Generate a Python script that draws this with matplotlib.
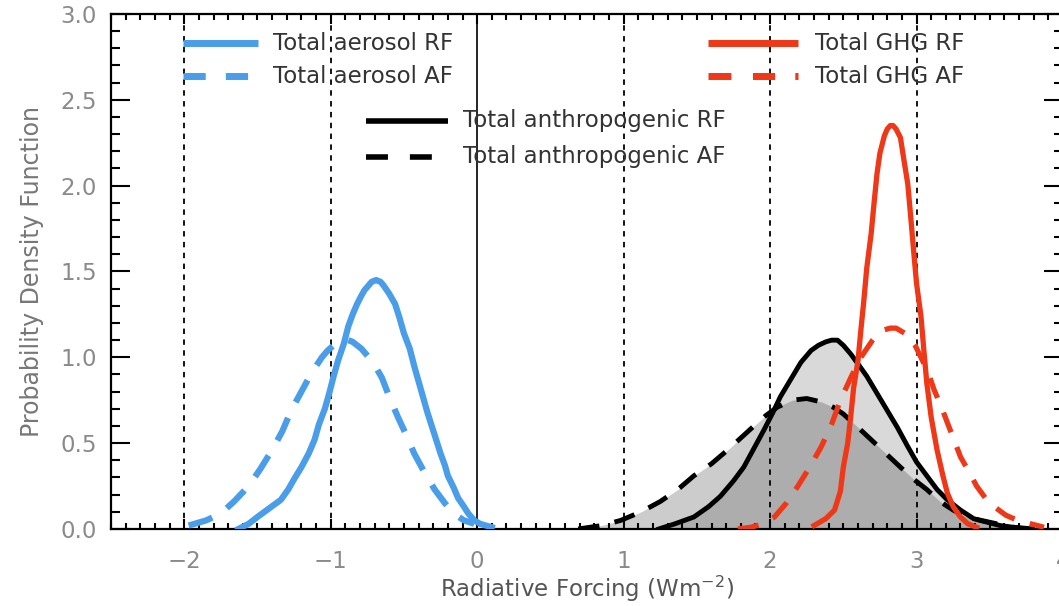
import matplotlib
matplotlib.use("Agg")
import matplotlib.pyplot as plt
from matplotlib.ticker import MultipleLocator

# PDFs of radiative forcing (RF) and adjusted forcing (AF), W m-2
aer_rf_x = [-1.63, -1.56, -1.50, -1.42, -1.34, -1.29, -1.25, -1.20, -1.15, -1.11, -1.08,
            -1.04, -1.01, -0.98, -0.95, -0.91, -0.88, -0.85, -0.82, -0.79, -0.77, -0.74,
            -0.72, -0.69, -0.66, -0.64, -0.60, -0.56, -0.53, -0.50, -0.46, -0.43, -0.40,
            -0.37, -0.34, -0.31, -0.28, -0.25, -0.22, -0.20, -0.16, -0.13, -0.09, -0.06,
            -0.02, 0.02, 0.06, 0.10]
aer_rf_y = [0.00, 0.03, 0.07, 0.12, 0.17, 0.23, 0.29, 0.36, 0.44, 0.52, 0.61,
            0.70, 0.79, 0.89, 0.98, 1.08, 1.18, 1.25, 1.31, 1.36, 1.39, 1.42,
            1.44, 1.45, 1.44, 1.42, 1.37, 1.31, 1.23, 1.14, 1.05, 0.95, 0.86,
            0.77, 0.68, 0.60, 0.52, 0.44, 0.37, 0.31, 0.24, 0.18, 0.13, 0.09,
            0.05, 0.03, 0.02, 0.01]

aer_af_x = [-1.97, -1.85, -1.75, -1.66, -1.56, -1.48, -1.40, -1.33, -1.27, -1.20, -1.13,
            -1.06, -1.02, -0.98, -0.95, -0.91, -0.88, -0.85, -0.82, -0.79, -0.75, -0.72,
            -0.69, -0.65, -0.60, -0.54, -0.48, -0.43, -0.36, -0.29, -0.22, -0.16, -0.09,
            -0.02]
aer_af_y = [0.02, 0.05, 0.09, 0.16, 0.25, 0.35, 0.46, 0.57, 0.69, 0.80, 0.91,
            1.00, 1.04, 1.07, 1.09, 1.10, 1.10, 1.09, 1.07, 1.05, 1.01, 0.98,
            0.94, 0.88, 0.77, 0.65, 0.54, 0.44, 0.33, 0.23, 0.15, 0.09, 0.05,
            0.03]

ant_rf_x = [1.24, 1.35, 1.48, 1.58, 1.66, 1.75, 1.82, 1.89, 1.96, 2.02, 2.07, 2.14,
            2.21, 2.28, 2.33, 2.38, 2.42, 2.46, 2.50, 2.55, 2.61, 2.66, 2.73, 2.80,
            2.87, 2.94, 3.00, 3.07, 3.14, 3.21, 3.30, 3.39, 3.48, 3.57, 3.75]
ant_rf_y = [0.00, 0.03, 0.07, 0.13, 0.19, 0.28, 0.36, 0.47, 0.58, 0.68, 0.77, 0.87,
            0.97, 1.04, 1.07, 1.09, 1.10, 1.10, 1.07, 1.02, 0.95, 0.89, 0.79, 0.69,
            0.59, 0.48, 0.39, 0.31, 0.23, 0.17, 0.11, 0.06, 0.04, 0.02, 0.00]

ant_af_x = [0.69, 0.85, 0.98, 1.12, 1.25, 1.37, 1.48, 1.60, 1.71, 1.80, 1.89, 1.97,
            2.05, 2.15, 2.25, 2.35, 2.43, 2.50, 2.59, 2.69, 2.79, 2.89, 2.98, 3.07,
            3.16, 3.25, 3.34, 3.44, 3.55, 3.66, 3.80]
ant_af_y = [0.00, 0.02, 0.05, 0.10, 0.16, 0.23, 0.31, 0.38, 0.46, 0.53, 0.60, 0.66,
            0.71, 0.75, 0.76, 0.74, 0.71, 0.67, 0.60, 0.52, 0.44, 0.36, 0.29, 0.23,
            0.16, 0.11, 0.07, 0.05, 0.03, 0.01, 0.00]

ghg_rf_x = [2.30, 2.38, 2.44, 2.48, 2.50, 2.53, 2.55, 2.57, 2.60, 2.62, 2.64, 2.66,
            2.69, 2.71, 2.73, 2.75, 2.78, 2.80, 2.82, 2.84, 2.86, 2.89, 2.91, 2.94,
            2.96, 2.98, 3.00, 3.03, 3.05, 3.07, 3.10, 3.14, 3.18, 3.21, 3.25, 3.30,
            3.35, 3.41]
ghg_rf_y = [0.02, 0.06, 0.11, 0.22, 0.36, 0.50, 0.65, 0.82, 0.98, 1.16, 1.33, 1.52,
            1.72, 1.90, 2.07, 2.19, 2.29, 2.33, 2.35, 2.35, 2.33, 2.28, 2.17, 2.01,
            1.82, 1.62, 1.43, 1.24, 1.04, 0.85, 0.65, 0.46, 0.31, 0.21, 0.13, 0.07,
            0.03, 0.01]

ghg_af_x = [1.78, 1.87, 1.95, 2.03, 2.11, 2.19, 2.27, 2.35, 2.42, 2.48, 2.55, 2.62,
            2.70, 2.74, 2.78, 2.82, 2.86, 2.90, 2.94, 2.99, 3.03, 3.08, 3.12, 3.17,
            3.21, 3.26, 3.30, 3.36, 3.41, 3.47, 3.53, 3.61, 3.69, 3.78, 3.87]
ghg_af_y = [0.00, 0.01, 0.03, 0.07, 0.15, 0.25, 0.36, 0.48, 0.61, 0.75, 0.88, 1.00,
            1.10, 1.14, 1.16, 1.17, 1.17, 1.15, 1.13, 1.07, 1.00, 0.91, 0.81, 0.71,
            0.62, 0.51, 0.42, 0.33, 0.25, 0.18, 0.13, 0.08, 0.05, 0.03, 0.01]

dotted_at = [-2, -1, 1, 2, 3]

blue = "#4a9de8"
red = "#ee3818"
grey_txt = "#8a8a8a"

fig = plt.figure(figsize=(10.59, 6.06), dpi=100)
ax = fig.add_axes([0.1048, 0.1271, 0.899, 0.8498])

# shaded areas under the anthropogenic curves (overlap comes out darker)
ax.fill_between(ant_rf_x, 0, ant_rf_y, color="k", alpha=0.15, lw=0, zorder=1)
ax.fill_between(ant_af_x, 0, ant_af_y, color="k", alpha=0.20, lw=0, zorder=1)

for xv in dotted_at:
    ax.axvline(xv, color="k", lw=1.3, ls=(0, (3, 3)), zorder=2)
ax.axvline(0, color="k", lw=1.2, zorder=2)

ax.plot(aer_rf_x, aer_rf_y, color=blue, lw=4.5, zorder=3)
ax.plot(aer_af_x, aer_af_y, color=blue, lw=4.5, ls=(0, (4, 2.8)), zorder=3)
ax.plot(ant_rf_x, ant_rf_y, color="k", lw=3.5, zorder=4)
ax.plot(ant_af_x, ant_af_y, color="k", lw=3.5, ls=(0, (4.4, 3.2)), zorder=4)
ax.plot(ghg_rf_x, ghg_rf_y, color=red, lw=3.8, zorder=5)
ax.plot(ghg_af_x, ghg_af_y, color=red, lw=3.8, ls=(0, (4, 3)), zorder=5)

# legend drawn by hand, three blocks
def key(x0, x1, y, color, lw, ls, label, tx):
    ax.plot([x0, x1], [y, y], color=color, lw=lw, ls=ls, transform=ax.transAxes,
            clip_on=False, zorder=6, solid_capstyle="butt", dash_capstyle="butt")
    ax.text(tx, y, label, transform=ax.transAxes, fontsize=16.5, color="#333333",
            va="center", ha="left", zorder=6)

key(0.0756, 0.1544, 0.9435, blue, 5, "-", "Total aerosol RF", 0.170)
key(0.0756, 0.1439, 0.8795, blue, 5, (0, (3.2, 2.9)), "Total aerosol AF", 0.170)
key(0.2678, 0.3540, 0.7930, "k", 4, "-", "Total anthropogenic RF", 0.3697)
key(0.2678, 0.3382, 0.7230, "k", 4, (0, (3.95, 3.95)), "Total anthropogenic AF", 0.3697)
key(0.6271, 0.7216, 0.9435, red, 5, "-", "Total GHG RF", 0.7395)
key(0.6271, 0.7216, 0.8795, red, 5, (0, (3.3, 3.1, 3.2, 2.9, 0.5, 4)), "Total GHG AF", 0.7395)

ax.set_xlim(-2.5, 4)
ax.set_ylim(0, 3)
ax.xaxis.set_minor_locator(MultipleLocator(0.1))
ax.yaxis.set_minor_locator(MultipleLocator(0.1))
ax.set_yticks([0, 0.5, 1.0, 1.5, 2.0, 2.5, 3.0])
ax.set_yticklabels(["0.0", "0.5", "1.0", "1.5", "2.0", "2.5", "3.0"])
ax.set_xticks([-2, -1, 0, 1, 2, 3, 4])
ax.set_xticklabels(["\u22122", "\u22121", "0", "1", "2", "3", "4"])

ax.tick_params(axis="both", which="both", direction="in", top=True, right=True,
               width=1.5, colors="k", labelcolor=grey_txt, labelsize=16.5)
ax.tick_params(axis="y", which="major", length=13.5, pad=10)
ax.tick_params(axis="y", which="minor", length=6.5)
ax.tick_params(axis="x", which="major", length=7, pad=15)
ax.tick_params(axis="x", which="minor", length=4)
for sp in ax.spines.values():
    sp.set_linewidth(1.6)

ax.set_xlabel("Radiative Forcing (Wm$^{-2}$)", fontsize=16.5, color="#555555", labelpad=1)
ax.set_ylabel("Probability Density Function", fontsize=17, color="#777777", labelpad=12)

fig.savefig("out.png", dpi=100)
